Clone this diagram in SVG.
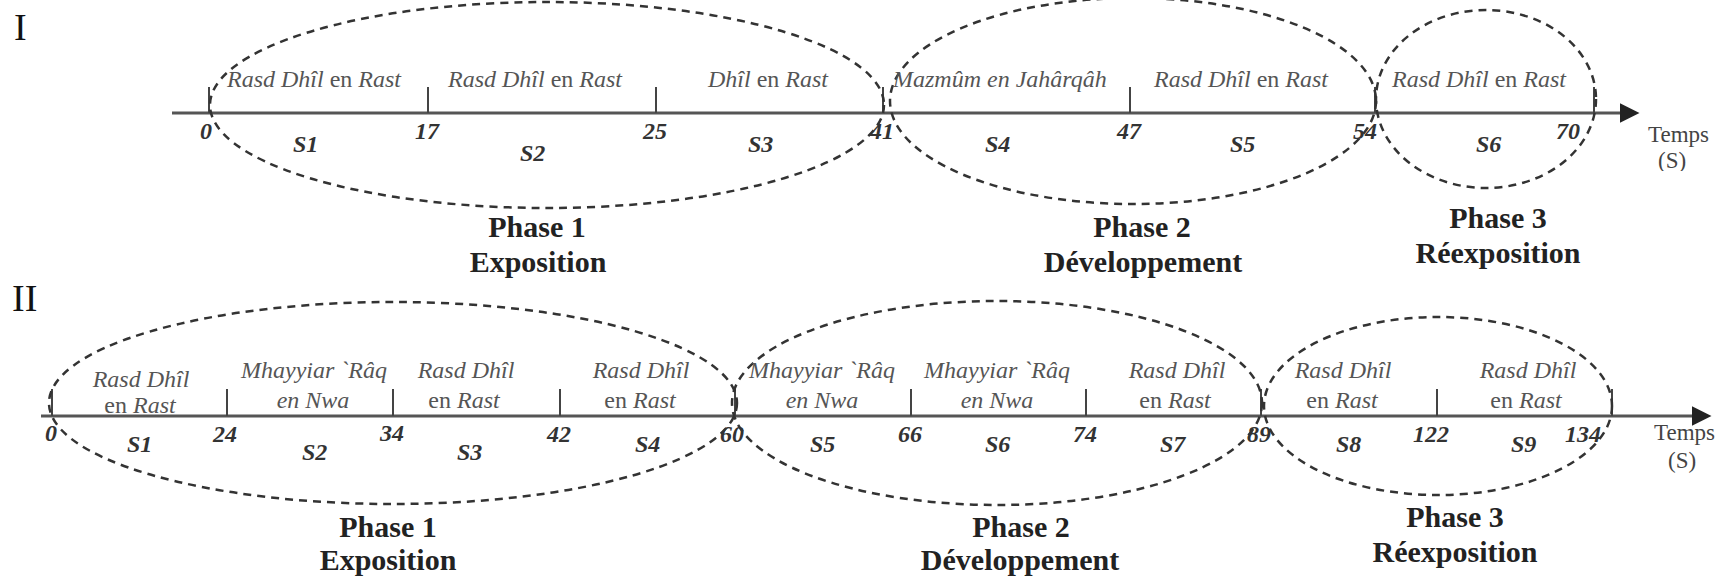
<svg xmlns="http://www.w3.org/2000/svg" width="1724" height="582" viewBox="0 0 1724 582">
<style>
.bg{fill:#fff}
.roman{font-family:"Liberation Serif",serif;font-size:38px;fill:#111}
.lab{font-family:"Liberation Serif",serif;font-size:24px;fill:#555;font-style:italic}
.up{font-style:normal}
.num{font-family:"Liberation Serif",serif;font-size:24px;font-weight:bold;font-style:italic;fill:#333}
.ph{font-family:"Liberation Serif",serif;font-size:30px;font-weight:bold;fill:#222;text-anchor:middle}
.tm{font-family:"Liberation Serif",serif;font-size:23px;fill:#444}
.axis{stroke:#555;stroke-width:3;fill:none}
.tick{stroke:#444;stroke-width:2;fill:none}
.ell{stroke:#333;stroke-width:2.5;stroke-dasharray:8 6;fill:none}
.mid{text-anchor:middle}
</style>
<defs>
<marker id="arr" viewBox="0 0 10 10" refX="0" refY="5" markerWidth="6.5" markerHeight="6.5" markerUnits="strokeWidth" orient="auto"><path d="M0,0 L10,5 L0,10 z" fill="#222"/></marker>
<clipPath id="clipS"><rect x="1640" y="150" width="80" height="21"/></clipPath>
</defs>
<rect class="bg" x="0" y="0" width="1724" height="582"/>

<g id="connectors">
  <g id="axis-I">
    <line class="axis" x1="172" y1="113" x2="1620" y2="113" marker-end="url(#arr)"/>
    <line class="tick" x1="209" y1="87" x2="209" y2="113"/>
    <line class="tick" x1="428" y1="87" x2="428" y2="113"/>
    <line class="tick" x1="656" y1="87" x2="656" y2="113"/>
    <line class="tick" x1="883" y1="87" x2="883" y2="113"/>
    <line class="tick" x1="1130" y1="87" x2="1130" y2="113"/>
    <line class="tick" x1="1375" y1="87" x2="1375" y2="113"/>
    <line class="tick" x1="1594" y1="87" x2="1594" y2="113"/>
  </g>
  <g id="axis-II">
    <line class="axis" x1="41" y1="416" x2="1692" y2="416" marker-end="url(#arr)"/>
    <line class="tick" x1="52" y1="389" x2="52" y2="416"/>
    <line class="tick" x1="227" y1="389" x2="227" y2="416"/>
    <line class="tick" x1="393" y1="389" x2="393" y2="416"/>
    <line class="tick" x1="560" y1="389" x2="560" y2="416"/>
    <line class="tick" x1="735" y1="389" x2="735" y2="416"/>
    <line class="tick" x1="911" y1="389" x2="911" y2="416"/>
    <line class="tick" x1="1086" y1="389" x2="1086" y2="416"/>
    <line class="tick" x1="1261" y1="389" x2="1261" y2="416"/>
    <line class="tick" x1="1437" y1="389" x2="1437" y2="416"/>
    <line class="tick" x1="1612" y1="389" x2="1612" y2="416"/>
  </g>
</g>

<g id="diagram-I">
  <text class="roman" x="14" y="40">I</text>
  <g id="I-phase1">
    <ellipse class="ell" cx="547" cy="105" rx="337" ry="103"/>
    <text class="ph" x="537" y="237">Phase 1</text>
    <text class="ph" x="538" y="272">Exposition</text>
  </g>
  <g id="I-phase2">
    <ellipse class="ell" cx="1133" cy="101" rx="243" ry="103"/>
    <text class="ph" x="1142" y="237">Phase 2</text>
    <text class="ph" x="1143" y="272">Développement</text>
  </g>
  <g id="I-phase3">
    <ellipse class="ell" cx="1486" cy="99" rx="110" ry="89"/>
    <text class="ph" x="1498" y="228">Phase 3</text>
    <text class="ph" x="1498" y="263">Réexposition</text>
  </g>
  <g id="I-S1"><text class="lab" x="227" y="87">Rasd Dhîl <tspan class="up">en</tspan> Rast</text><text class="num" x="293" y="152">S1</text></g>
  <g id="I-S2"><text class="lab" x="448" y="87">Rasd Dhîl <tspan class="up">en</tspan> Rast</text><text class="num" x="520" y="161">S2</text></g>
  <g id="I-S3"><text class="lab" x="708" y="87">Dhîl <tspan class="up">en</tspan> Rast</text><text class="num" x="748" y="152">S3</text></g>
  <g id="I-S4"><text class="lab" x="893" y="87">Mazmûm en Jahârqâh</text><text class="num" x="985" y="152">S4</text></g>
  <g id="I-S5"><text class="lab" x="1154" y="87">Rasd Dhîl <tspan class="up">en</tspan> Rast</text><text class="num" x="1230" y="152">S5</text></g>
  <g id="I-S6"><text class="lab" x="1392" y="87">Rasd Dhîl <tspan class="up">en</tspan> Rast</text><text class="num" x="1476" y="152">S6</text></g>
  <g id="I-times">
    <text class="num" x="200" y="139">0</text>
    <text class="num" x="415" y="139">17</text>
    <text class="num" x="643" y="139">25</text>
    <text class="num" x="870" y="139">41</text>
    <text class="num" x="1117" y="139">47</text>
    <text class="num" x="1353" y="139">54</text>
    <text class="num" x="1556" y="139">70</text>
  </g>
  <g id="I-unit">
    <text class="tm" x="1648" y="142">Temps</text>
    <text class="tm" x="1658" y="168" clip-path="url(#clipS)">(S)</text>
  </g>
</g>

<g id="diagram-II">
  <text class="roman" x="12" y="311">II</text>
  <g id="II-phase1">
    <ellipse class="ell" cx="393" cy="403" rx="344" ry="101"/>
    <text class="ph" x="388" y="537">Phase 1</text>
    <text class="ph" x="388" y="570">Exposition</text>
  </g>
  <g id="II-phase2">
    <ellipse class="ell" cx="997" cy="403" rx="265" ry="102"/>
    <text class="ph" x="1021" y="537">Phase 2</text>
    <text class="ph" x="1020" y="570">Développement</text>
  </g>
  <g id="II-phase3">
    <ellipse class="ell" cx="1438" cy="406" rx="174" ry="89"/>
    <text class="ph" x="1455" y="527">Phase 3</text>
    <text class="ph" x="1455" y="562">Réexposition</text>
  </g>
  <g id="II-S1"><text class="lab mid" x="141" y="387">Rasd Dhîl</text><text class="lab mid" x="140" y="413"><tspan class="up">en</tspan> Rast</text><text class="num" x="127" y="452">S1</text></g>
  <g id="II-S2"><text class="lab mid" x="314" y="378">Mhayyiar `Râq</text><text class="lab mid" x="313" y="408">en Nwa</text><text class="num" x="302" y="460">S2</text></g>
  <g id="II-S3"><text class="lab mid" x="466" y="378">Rasd Dhîl</text><text class="lab mid" x="464" y="408"><tspan class="up">en</tspan> Rast</text><text class="num" x="457" y="460">S3</text></g>
  <g id="II-S4"><text class="lab mid" x="641" y="378">Rasd Dhîl</text><text class="lab mid" x="640" y="408"><tspan class="up">en</tspan> Rast</text><text class="num" x="635" y="452">S4</text></g>
  <g id="II-S5"><text class="lab mid" x="822" y="378">Mhayyiar `Râq</text><text class="lab mid" x="822" y="408">en Nwa</text><text class="num" x="810" y="452">S5</text></g>
  <g id="II-S6"><text class="lab mid" x="997" y="378">Mhayyiar `Râq</text><text class="lab mid" x="997" y="408">en Nwa</text><text class="num" x="985" y="452">S6</text></g>
  <g id="II-S7"><text class="lab mid" x="1177" y="378">Rasd Dhîl</text><text class="lab mid" x="1175" y="408"><tspan class="up">en</tspan> Rast</text><text class="num" x="1160" y="452">S7</text></g>
  <g id="II-S8"><text class="lab mid" x="1343" y="378">Rasd Dhîl</text><text class="lab mid" x="1342" y="408"><tspan class="up">en</tspan> Rast</text><text class="num" x="1336" y="452">S8</text></g>
  <g id="II-S9"><text class="lab mid" x="1528" y="378">Rasd Dhîl</text><text class="lab mid" x="1526" y="408"><tspan class="up">en</tspan> Rast</text><text class="num" x="1511" y="452">S9</text></g>
  <g id="II-times">
    <text class="num" x="45" y="441">0</text>
    <text class="num" x="213" y="442">24</text>
    <text class="num" x="380" y="441">34</text>
    <text class="num" x="547" y="442">42</text>
    <text class="num" x="720" y="442">60</text>
    <text class="num" x="898" y="442">66</text>
    <text class="num" x="1073" y="442">74</text>
    <text class="num" x="1247" y="442">89</text>
    <text class="num" x="1413" y="442">122</text>
    <text class="num" x="1565" y="442">134</text>
  </g>
  <g id="II-unit">
    <text class="tm" x="1654" y="440">Temps</text>
    <text class="tm" x="1668" y="468">(S)</text>
  </g>
</g>
</svg>
